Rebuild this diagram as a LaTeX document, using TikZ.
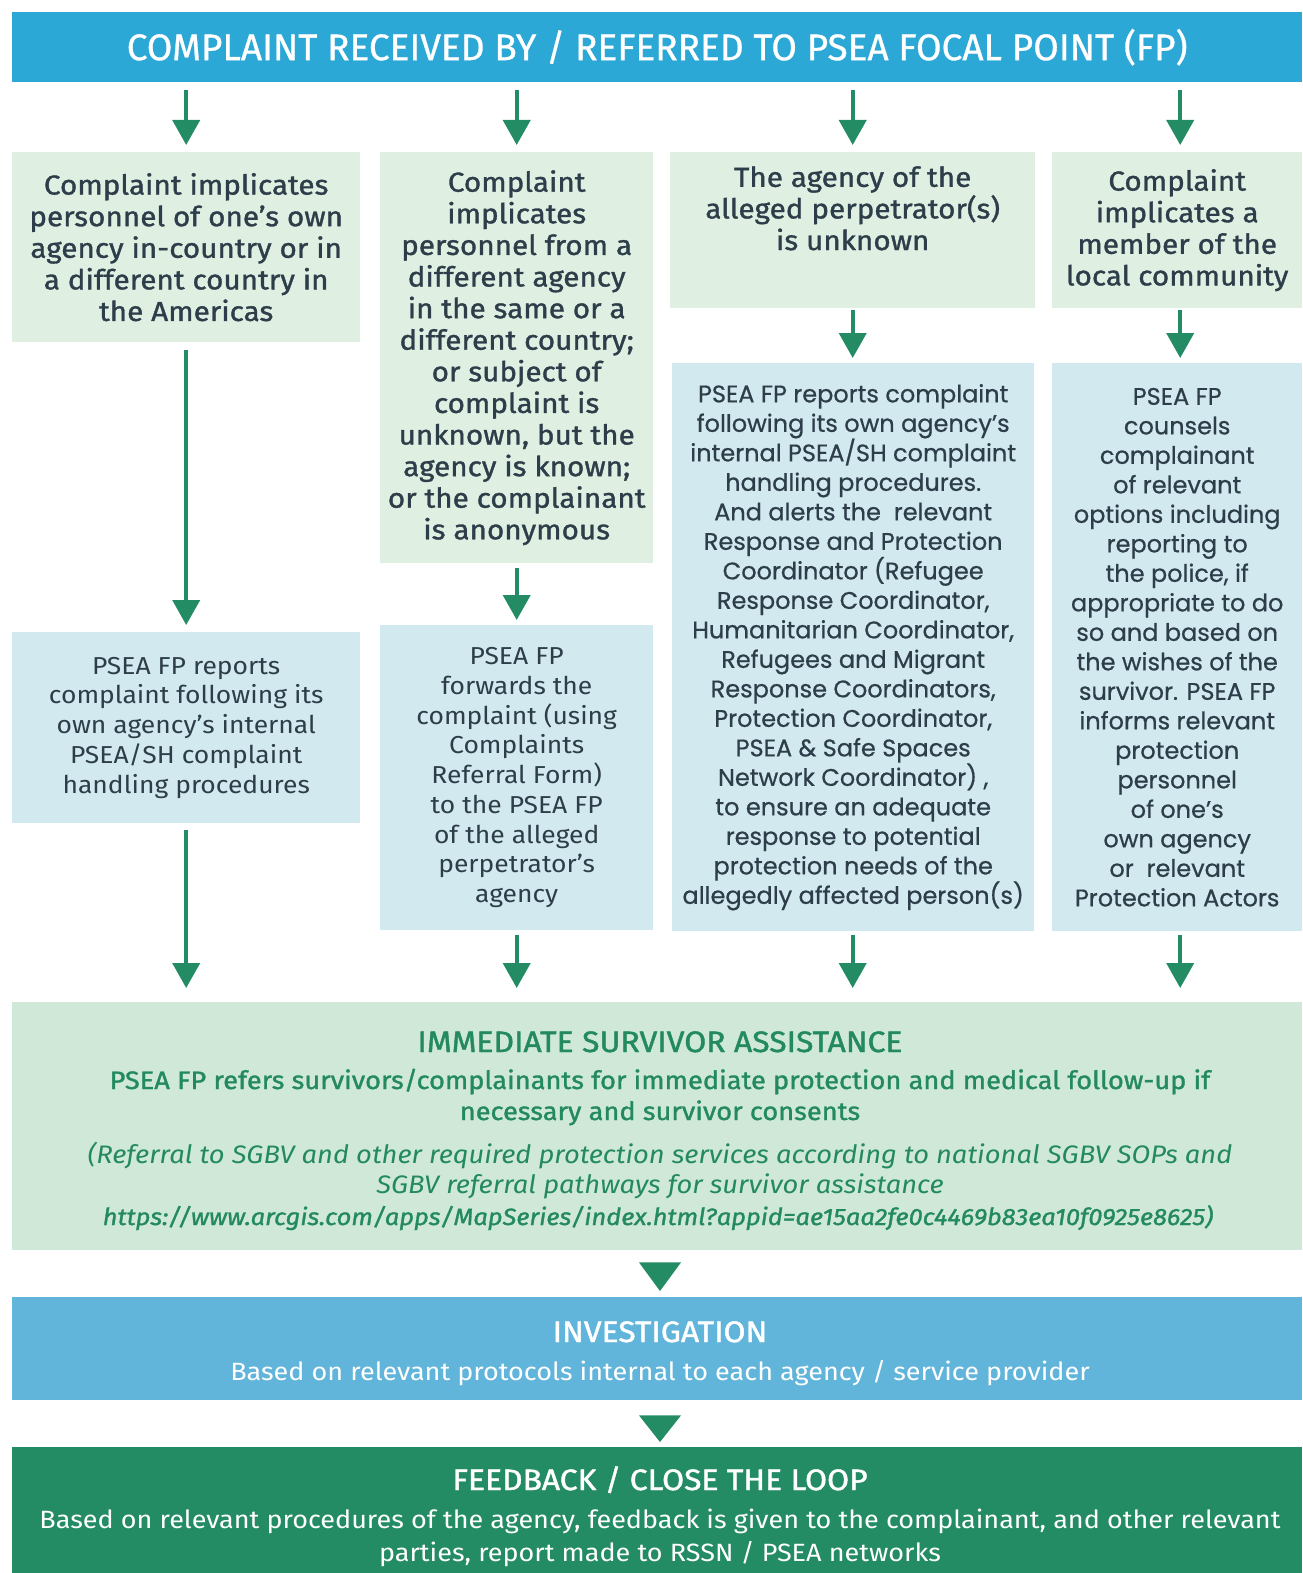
\documentclass[tikz,border=0pt]{standalone}
\usepackage{fontspec}
\usetikzlibrary{arrows.meta}
\newfontfamily\dinfont[FakeStretch=1.08]{Fira Sans}
\newfontfamily\dinsemi[FakeStretch=1.08,FakeBold=1.2]{Fira Sans}
\newfontfamily\titlefont[FakeStretch=1.08,FakeBold=1.4]{Fira Sans}
\newfontfamily\headfont[FakeBold=0.8]{Fira Sans}
\newfontfamily\roundfont[FakeBold=0.6]{Poppins}
\definecolor{hdrblue}{HTML}{2BA8D5}
\definecolor{lgreen}{HTML}{DFF0E3}
\definecolor{lblue}{HTML}{D3E9F0}
\definecolor{assistbg}{HTML}{CFE8D8}
\definecolor{invblue}{HTML}{62B5DA}
\definecolor{fbgreen}{HTML}{248C64}
\definecolor{arrgreen}{HTML}{248C64}
\definecolor{darktext}{HTML}{2D3D49}
\definecolor{greentext}{HTML}{23895E}
\tikzset{
  boxbase/.style={anchor=north west, inner sep=0pt, align=center, text=darktext},
  gbox/.style={boxbase, fill=lgreen, font=\dinsemi\fontsize{27.5}{31.6}\selectfont},
  bbox/.style={boxbase, fill=lblue, font=\dinfont\fontsize{24.5}{29.7}\selectfont},
  rbox/.style={boxbase, fill=lblue, font=\roundfont\fontsize{24}{29.5}\selectfont},
  arr/.style={draw=arrgreen, line width=4pt, -{Triangle[width=27pt,length=25pt]}},
  bigtri/.style={fill=arrgreen},
  txt/.style={anchor=base, align=center, inner sep=0pt},
}
\begin{document}
\begin{tikzpicture}[x=1pt,y=-1pt]
\useasboundingbox[fill=white] (0,0) rectangle (1302,1573);
% header
\node[anchor=north west, fill=hdrblue, minimum width=1290pt, minimum height=70pt, inner sep=0pt,
      text=white, font=\headfont\fontsize{37}{40}\selectfont] (hdr) at (12,12)
  {COMPLAINT RECEIVED BY / REFERRED TO PSEA FOCAL POINT (FP)};
% first-row boxes
\node[gbox, minimum width=348pt, minimum height=190pt] (g1) at (12,152)
  {Complaint implicates\\personnel of one’s own\\agency in-country or in\\a different country in\\the Americas};
\node[gbox, minimum width=273pt, minimum height=411pt] (g2) at (380,152)
  {Complaint\\implicates\\personnel from a\\different agency\\in the same or a\\different country;\\or subject of\\complaint is\\unknown, but the\\agency is known;\\or the complainant\\is anonymous};
\node[gbox, minimum width=365pt, minimum height=156pt] (g3) at (670,152) {};
\node[gbox, anchor=north, fill=none] (g3t) at ([yshift=-14pt]g3.north)
  {The agency of the\\alleged perpetrator(s)\\is unknown};
\node[gbox, minimum width=250pt, minimum height=156pt] (g4) at (1052,152)
  {Complaint\\implicates a\\member of the\\local community};
% second-row boxes
\node[bbox, minimum width=348pt, minimum height=191pt] (b1) at (12,632)
  {PSEA FP reports\\complaint following its\\own agency’s internal\\PSEA/SH complaint\\handling procedures};
\node[bbox, minimum width=273pt, minimum height=305pt] (b2) at (380,625)
  {PSEA FP\\forwards the\\complaint (using\\Complaints\\Referral Form)\\to the PSEA FP\\of the alleged\\perpetrator’s\\agency};
\node[rbox, minimum width=362pt, minimum height=568pt] (b3) at (672,363)
  {PSEA FP reports complaint\\following its own agency’s\\internal PSEA/SH complaint\\handling procedures.\\And alerts the\ \ relevant\\Response and Protection\\Coordinator (Refugee\\Response Coordinator,\\Humanitarian Coordinator,\\Refugees and Migrant\\Response Coordinators,\\Protection Coordinator,\\PSEA \& Safe Spaces\\Network Coordinator) ,\\to ensure an adequate\\response to potential\\protection needs of the\\allegedly affected person(s)};
\node[rbox, minimum width=250pt, minimum height=568pt] (b4) at (1052,363)
  {PSEA FP\\counsels\\complainant\\of relevant\\options including\\reporting to\\the police, if\\appropriate to do\\so and based on\\the wishes of the\\survivor. PSEA FP\\informs relevant\\protection\\personnel\\of one’s\\own agency\\or\ \ relevant\\Protection Actors};
% assistance box
\node[anchor=north west, fill=assistbg, minimum width=1290pt, minimum height=248pt, inner sep=0pt] (assist) at (12,1002) {};
\node[txt, text=greentext, font=\titlefont\fontsize{29.5}{32}\selectfont] (at1) at (660,1052)
  {IMMEDIATE SURVIVOR ASSISTANCE};
\node[txt, text=greentext, font=\dinsemi\fontsize{25.2}{31}\selectfont] (at2) at (660,1120)
  {PSEA FP refers survivors/complainants for immediate protection and medical follow-up if\\necessary and survivor consents};
\node[txt, text=greentext, font=\dinfont\itshape\fontsize{25.3}{29.5}\selectfont] (at3) at (660,1193)
  {(Referral to SGBV and other required protection services according to national SGBV SOPs and\\SGBV referral pathways for survivor assistance};
\node[txt, text=greentext, font=\dinsemi\itshape\fontsize{23.6}{26}\selectfont] (at4) at (658,1225)
  {https://www.arcgis.com/apps/MapSeries/index.html?appid=ae15aa2fe0c4469b83ea10f0925e8625)};
% investigation
\node[anchor=north west, fill=invblue, minimum width=1290pt, minimum height=103pt, inner sep=0pt] (inv) at (12,1297) {};
\node[txt, text=white, font=\titlefont\fontsize{29.5}{32}\selectfont] (it1) at (660,1342)
  {INVESTIGATION};
\node[txt, text=white, font=\dinfont\fontsize{25}{30}\selectfont] (it2) at (660,1380)
  {Based on relevant protocols internal to each agency / service provider};
% feedback
\node[anchor=north west, fill=fbgreen, minimum width=1290pt, minimum height=126pt, inner sep=0pt] (fb) at (12,1447) {};
\node[txt, text=white, font=\titlefont\fontsize{29.5}{32}\selectfont] (ft1) at (660,1490)
  {FEEDBACK / CLOSE THE LOOP};
\node[txt, text=white, font=\dinfont\fontsize{25}{32.5}\selectfont] (ft2) at (660,1561)
  {Based on relevant procedures of the agency, feedback is given to the complainant, and other relevant\\parties, report made to RSSN / PSEA networks};
% arrows from header
\draw[arr, shorten <=8pt, shorten >=7pt] (hdr.south -| g1.north) -- (g1.north);
\draw[arr, shorten <=8pt, shorten >=7pt] (hdr.south -| g2.north) -- (g2.north);
\draw[arr, shorten <=8pt, shorten >=7pt] (hdr.south -| g3.north) -- (g3.north);
\draw[arr, shorten <=8pt, shorten >=7pt] ([xshift=3pt]hdr.south -| g4.north) -- ([xshift=3pt]g4.north);
% middle arrows
\draw[arr, shorten <=8pt, shorten >=7pt] (g1.south) -- (b1.north);
\draw[arr, shorten <=5pt, shorten >=5pt] (g2.south) -- (b2.north);
\draw[arr, shorten <=2pt, shorten >=5pt] (g3.south) -- (g3.south |- b3.north);
\draw[arr, shorten <=2pt, shorten >=5pt] ([xshift=3pt]g4.south) -- ([xshift=3pt]g4.south |- b4.north);
% arrows to assistance
\draw[arr, shorten <=7pt, shorten >=14pt] (b1.south) -- (b1.south |- assist.north);
\draw[arr, shorten <=5pt, shorten >=14pt] (b2.south) -- (b2.south |- assist.north);
\draw[arr, shorten <=4pt, shorten >=14pt] (g3.south |- b3.south) -- (g3.south |- assist.north);
\draw[arr, shorten <=4pt, shorten >=14pt] ([xshift=3pt]g4.south |- b4.south) -- ([xshift=3pt]g4.south |- assist.north);
% big triangles
\path[bigtri] ([yshift=-12pt]assist.south -| it1.north) ++(-21,0) -- ++(42,0) -- ([yshift=6pt]it1.north |- inv.north) -- cycle;
\path[bigtri] ([yshift=-15pt]inv.south -| it1.north) ++(-21,0) -- ++(42,0) -- ([yshift=5pt]it1.north |- fb.north) -- cycle;
\end{tikzpicture}
\end{document}
